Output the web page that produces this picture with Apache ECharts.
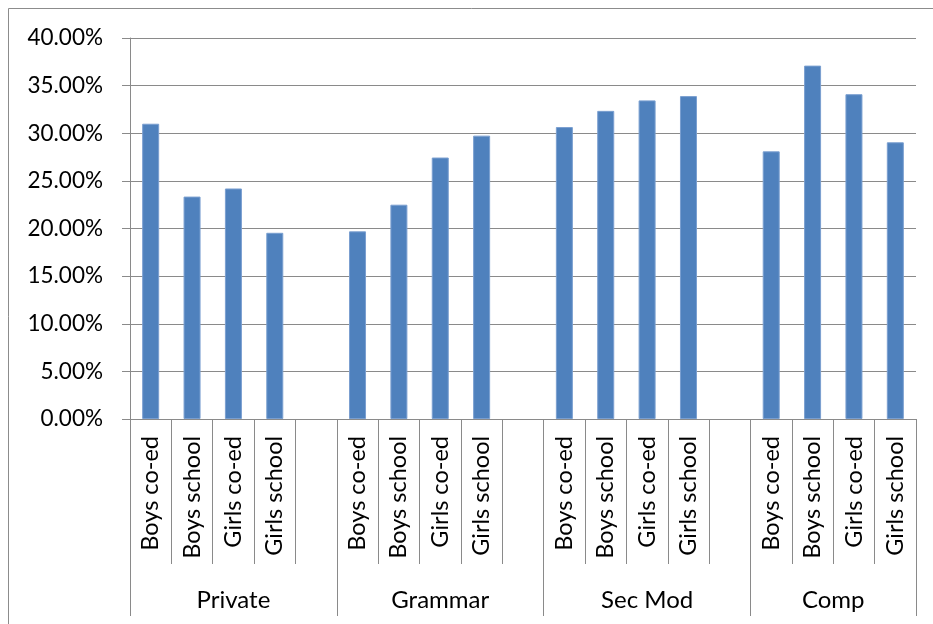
<!DOCTYPE html>
<html>
<head>
<meta charset="utf-8">
<script src="https://cdn.jsdelivr.net/npm/echarts@6/dist/echarts.min.js"></script>
<style>
  html, body { margin: 0; padding: 0; background: #fff; }
  #chart { width: 933px; height: 624px; }
</style>
</head>
<body>
<div id="chart"></div>
<script>
// School types (outer axis level) and pupil groups (inner axis level)
const groups = ['Private', 'Grammar', 'Sec Mod', 'Comp'];
const subTypes = ['Boys co-ed', 'Boys school', 'Girls co-ed', 'Girls school'];

// Percentages per school type, in subTypes order
const privateVals = [31.0, 23.35, 24.2, 19.55];
const grammarVals = [19.7, 22.5, 27.45, 29.75];
const secModVals  = [30.65, 32.35, 33.45, 33.9];
const compVals    = [28.1, 37.1, 34.1, 29.05];

const yTicks = { min: 0, max: 40, step: 5 };

// Flatten into one category axis, with an empty slot between school types
const groupVals = [privateVals, grammarVals, secModVals, compVals];
const categories = [];
const values = [];
const groupStarts = [];
const groupCenters = [];
groupVals.forEach((vals, gi) => {
  groupStarts.push(categories.length);
  subTypes.forEach((s, i) => { categories.push(s); values.push(vals[i]); });
  if (gi < groupVals.length - 1) { categories.push(''); values.push('-'); }
});
groupStarts.push(categories.length);
for (let i = 0; i < groups.length; i++) {
  groupCenters.push((groupStarts[i] + groupStarts[i + 1]) / 2);
}

const FONT = 'Lato';
const GRID_COLOR = '#8a8a8a';

const chart = echarts.init(document.getElementById('chart'));
chart.setOption({
  animation: false,
  backgroundColor: '#fff',
  graphic: [{
    type: 'rect',
    shape: { x: 8.5, y: 8.5, width: 1000, height: 700 },
    style: { fill: 'none', stroke: '#8c8c8c', lineWidth: 1 },
    silent: true
  }],
  grid: { left: 130, right: 17, top: 38, height: 381 },
  xAxis: [{
    type: 'category',
    data: categories,
    position: 'bottom',
    axisLine: { lineStyle: { color: GRID_COLOR, width: 1 } },
    axisTick: { show: true, interval: 0, length: 145, lineStyle: { color: GRID_COLOR } },
    axisLabel: {
      interval: 0, rotate: 90, margin: 17,
      fontFamily: FONT, fontSize: 23.5, color: '#000'
    }
  }, {
    type: 'value',
    position: 'bottom',
    min: 0,
    max: categories.length,
    splitLine: { show: false },
    axisLine: { show: false },
    axisTick: {
      show: true, length: 197, customValues: groupStarts,
      lineStyle: { color: GRID_COLOR }
    },
    axisLabel: {
      customValues: groupCenters,
      margin: 169,
      fontFamily: FONT, fontSize: 24, color: '#000',
      formatter: v => groups[groupCenters.indexOf(v)] || ''
    }
  }],
  yAxis: {
    type: 'value',
    min: yTicks.min, max: yTicks.max, interval: yTicks.step,
    axisLine: { show: true, lineStyle: { color: GRID_COLOR } },
    axisTick: { show: true, length: 8, lineStyle: { color: GRID_COLOR } },
    splitLine: { lineStyle: { color: GRID_COLOR, width: 1 } },
    axisLabel: {
      margin: 27, fontFamily: FONT, fontSize: 22.5, color: '#000',
      formatter: v => v.toFixed(2) + '%'
    }
  },
  series: [{
    type: 'bar',
    xAxisIndex: 0,
    data: values,
    barWidth: 17,
    itemStyle: { color: '#4f81bd', borderColor: '#7a9fd0', borderWidth: 1 }
  }]
});
</script>
</body>
</html>
